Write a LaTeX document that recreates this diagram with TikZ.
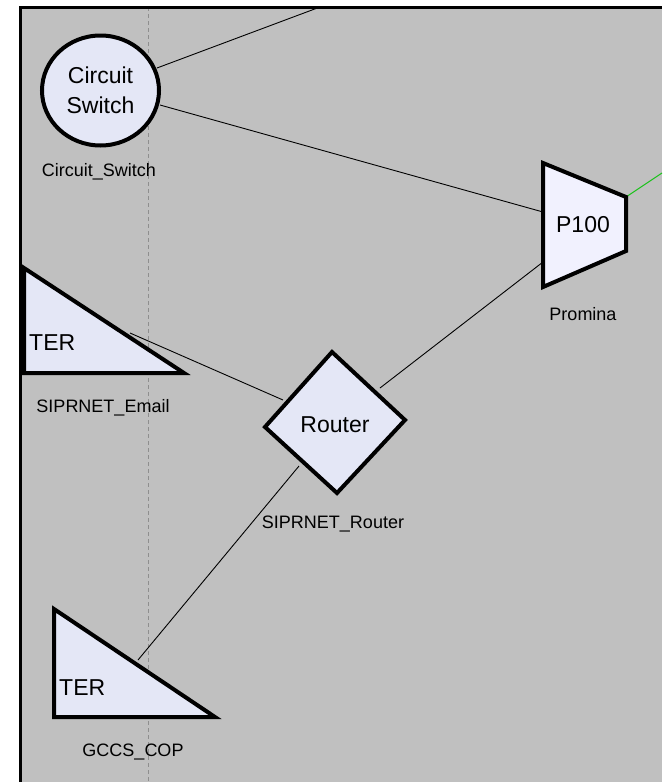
\documentclass[tikz,border=0pt]{standalone}
\usepackage{fontspec}
\setmainfont{Liberation Sans}
\usetikzlibrary{shapes.geometric}
\definecolor{canvas}{HTML}{C0C0C0}
\definecolor{nodefill}{HTML}{E4E7F6}
\definecolor{muxfill}{HTML}{F1F1FE}
\definecolor{guidegray}{HTML}{8E8E8E}
\definecolor{trunkgreen}{HTML}{1FC21F}
\pgfdeclarelayer{back}
\pgfdeclarelayer{links}
\pgfsetlayers{back,links,main}
\begin{document}
\begin{tikzpicture}[x=1pt,y=-1pt,
  device/.style={fill=nodefill, draw=black, line width=4pt, line join=miter},
  link/.style={draw=black, line width=0.9pt},
  devtext/.style={font=\fontsize{23}{30}\selectfont, inner sep=0pt, align=center},
  caption/.style={font=\fontsize{18}{20}\selectfont, inner sep=0pt, anchor=base}]
\useasboundingbox (0,0) rectangle (662,782);

% canvas and grid guide
\begin{pgfonlayer}{back}
  \fill[white] (0,0) rectangle (662,782);
  \fill[canvas] (20,7) rectangle (662,782);
  \draw[guidegray, line width=1pt, dash pattern=on 4pt off 3pt] (148,7) -- (148,782);
\end{pgfonlayer}

% Circuit switch
\node[device, ellipse, minimum width=117pt, minimum height=110pt, devtext]
  (cs) at (100.5,90.5) {Circuit\\Switch};
\node[caption] (cscap) at (99,176) {Circuit\_Switch};

% Promina multiplexer
\coordinate (pmA) at (543,163);
\coordinate (pmB) at (626,197);
\coordinate (pmC) at (626,251);
\coordinate (pmD) at (543,287);
\path[device, fill=muxfill] (pmA) -- (pmB) -- (pmC) -- (pmD) -- cycle;
\node[devtext, anchor=base] (pm) at (583,232) {P100};
\node[caption] (pmcap) at (583,320) {Promina};

% SIPRNET router
\coordinate (rtN) at (332,352);
\coordinate (rtE) at (405,420);
\coordinate (rtS) at (337,493);
\coordinate (rtW) at (265,427);
\path[device] (rtN) -- (rtE) -- (rtS) -- (rtW) -- cycle;
\node[devtext, anchor=base] (rt) at (335,432) {Router};
\node[caption] (rtcap) at (333,528) {SIPRNET\_Router};

% SIPRNET email terminal
\coordinate (emA) at (24,268);
\coordinate (emB) at (24,373);
\coordinate (emC) at (184,373);
\path[device] (emA) -- (emB) -- (emC) -- cycle;
\node[devtext, anchor=base west] (em) at (29,350) {TER};
\node[caption] (emcap) at (103,412) {SIPRNET\_Email};

% GCCS COP terminal
\coordinate (gcA) at (54,609);
\coordinate (gcB) at (54,717);
\coordinate (gcC) at (215,717);
\path[device] (gcA) -- (gcB) -- (gcC) -- cycle;
\node[devtext, anchor=base west] (gc) at (59,695) {TER};
\node[caption] (gccap) at (133,756) {GCCS\_COP};

% connector end points
\coordinate (csUp) at (157,68);
\coordinate (csPm) at (160,105);
\coordinate (offTop) at (320,7);
\coordinate (pmIn) at (543,212);
\coordinate (pmLow) at (543,262);
\coordinate (pmOut) at (626,197);
\coordinate (offRight) at (662,173);
\coordinate (rtNE) at (380,388);
\coordinate (rtNW) at (283,400);
\coordinate (rtSW) at (299,466);
\coordinate (emHyp) at (130,333);
\coordinate (gcHyp) at (138,660);

\begin{pgfonlayer}{links}
  \draw[link] (csUp) -- (offTop);
  \draw[link] (csPm) -- (pmIn);
  \draw[link] (pmLow) -- (rtNE);
  \draw[link] (emHyp) -- (rtNW);
  \draw[link] (rtSW) -- (gcHyp);
  \draw[trunkgreen, line width=1pt] (pmOut) -- (offRight);
\end{pgfonlayer}

% window frame
\draw[black, line width=3pt] (20,782) -- (20,7) -- (662,7);
\end{tikzpicture}
\end{document}
